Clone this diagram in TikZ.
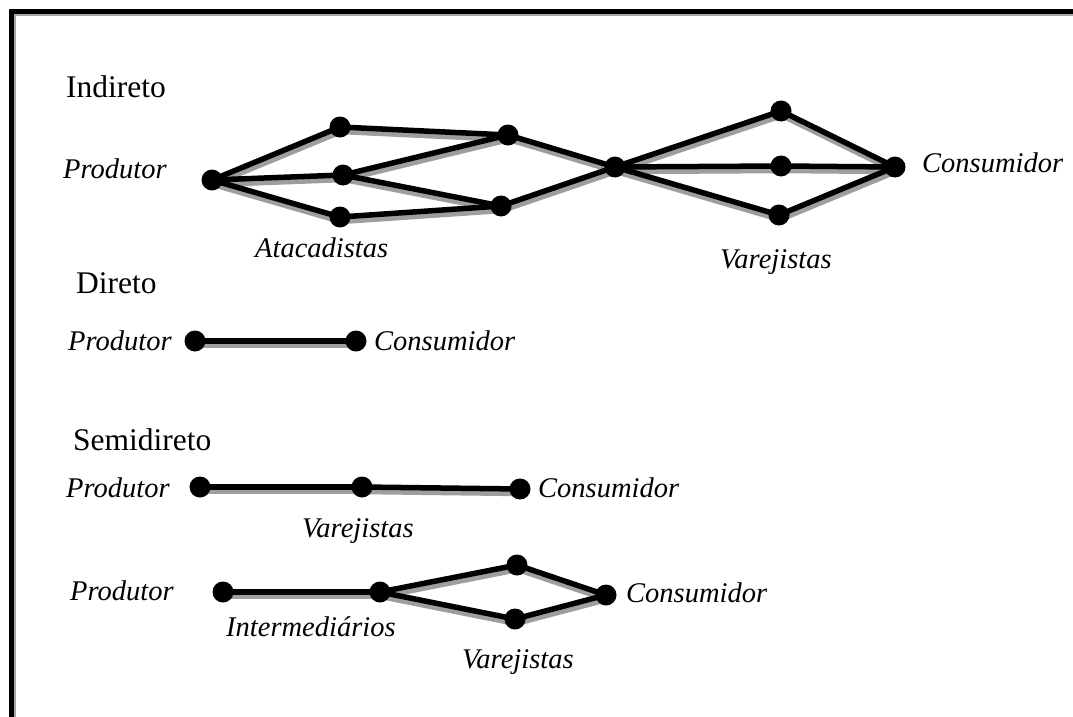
\documentclass[tikz,border=0pt]{standalone}
\usepackage{fontspec}
\setmainfont{Liberation Serif}
\begin{document}
\begin{tikzpicture}[x=1pt,y=-1pt,
  edge/.style={line width=5.5pt,black},
  shadowline/.style={line width=5.5pt,black!38},
  dot/.style={circle,fill=black,inner sep=0pt,minimum size=21pt},
  title/.style={anchor=base west,inner sep=0pt,font=\fontsize{31.5}{36}\selectfont},
  lbl/.style={anchor=base west,inner sep=0pt,font=\fontsize{28.5}{34}\selectfont\itshape}]
\useasboundingbox (0,0) rectangle (1073,717);
\newcommand{\edgeln}[2]{%
  \draw[shadowline] ([shift={(1,4.5)}]#1) -- ([shift={(1,4.5)}]#2);
  \draw[edge] (#1) -- (#2);}
% frame
\draw[line width=1.2pt,black!35] (15,717) -- (15,15) -- (1073,15);
\draw[line width=5pt,black] (11.5,717) -- (11.5,11.5) -- (1073,11.5);
% ---------- Indireto
\coordinate (p0) at (212,180);
\coordinate (a1) at (340,127);
\coordinate (a2) at (343,175);
\coordinate (a3) at (340,217);
\coordinate (b1) at (508,135);
\coordinate (b2) at (501,206);
\coordinate (hub) at (615,167);
\coordinate (v1) at (781,111);
\coordinate (v2) at (781,166);
\coordinate (v3) at (779,215);
\coordinate (c0) at (895,167);
\edgeln{p0}{a1}\edgeln{p0}{a2}\edgeln{p0}{a3}
\edgeln{a1}{b1}\edgeln{a2}{b1}\edgeln{a2}{b2}\edgeln{a3}{b2}
\edgeln{b1}{hub}\edgeln{b2}{hub}
\edgeln{hub}{v1}\edgeln{hub}{v2}\edgeln{hub}{v3}
\edgeln{v1}{c0}\edgeln{v2}{c0}\edgeln{v3}{c0}
\foreach \n in {p0,a1,a2,a3,b1,b2,hub,v1,v2,v3,c0} \node[dot] at (\n) {};
\node[title] (t1) at (66,97) {Indireto};
\node[lbl] (l1p) at (63,178) {Produtor};
\node[lbl] (l1a) at (255,257) {Atacadistas};
\node[lbl] (l1v) at (720,268) {Varejistas};
\node[lbl] (l1c) at (922,172) {Consumidor};
% ---------- Direto
\coordinate (dp) at (195,341);
\coordinate (dc) at (356,341);
\edgeln{dp}{dc}
\foreach \n in {dp,dc} \node[dot] at (\n) {};
\node[title] (t2) at (76,293) {Direto};
\node[lbl] (l2p) at (68,350) {Produtor};
\node[lbl] (l2c) at (374,350) {Consumidor};
% ---------- Semidireto
\coordinate (sp) at (200,487);
\coordinate (sv) at (362,487);
\coordinate (sc) at (520,489);
\edgeln{sp}{sv}\edgeln{sv}{sc}
\foreach \n in {sp,sv,sc} \node[dot] at (\n) {};
\node[title] (t3) at (73,450) {Semidireto};
\node[lbl] (l3p) at (66,497) {Produtor};
\node[lbl] (l3v) at (302,537) {Varejistas};
\node[lbl] (l3c) at (538,497) {Consumidor};
% ---------- bottom row
\coordinate (qp) at (223,592);
\coordinate (qi) at (380,592);
\coordinate (qv1) at (517,565);
\coordinate (qv2) at (515,619);
\coordinate (qc) at (606,595);
\edgeln{qp}{qi}\edgeln{qi}{qv1}\edgeln{qi}{qv2}\edgeln{qv1}{qc}\edgeln{qv2}{qc}
\foreach \n in {qp,qi,qv1,qv2,qc} \node[dot] at (\n) {};
\node[lbl] (l4p) at (70,600) {Produtor};
\node[lbl] (l4i) at (226,636) {Intermediários};
\node[lbl] (l4v) at (462,668) {Varejistas};
\node[lbl] (l4c) at (626,602) {Consumidor};
\end{tikzpicture}
\end{document}
